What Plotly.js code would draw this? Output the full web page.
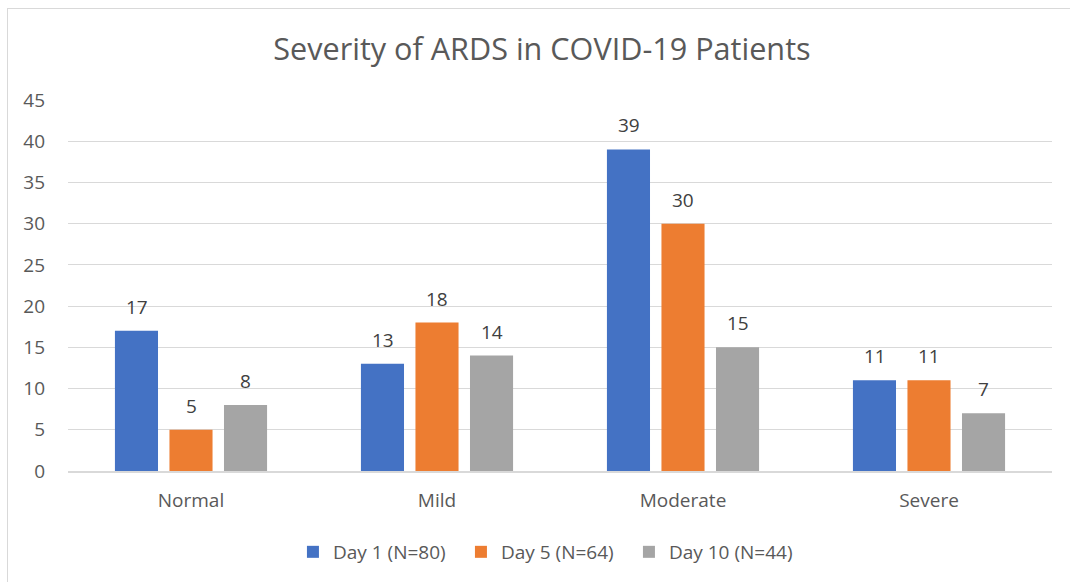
<!DOCTYPE html>
<html>
<head>
<meta charset="utf-8">
<script src="https://cdn.plot.ly/plotly-3.0.1.min.js"></script>
<style>
html,body{margin:0;padding:0;background:#fff;}
#frame{position:absolute;left:7px;top:8px;width:1080px;height:600px;border:1px solid #d9d9d9;box-sizing:border-box;}
#chart{position:absolute;left:0;top:0;width:1070px;height:582px;}
</style>
</head>
<body>
<div id="frame"></div>
<div id="chart"></div>
<script>
const categories = ["Normal", "Mild", "Moderate", "Severe"];
const seriesNames = ["Day 1 (N=80)", "Day 5 (N=64)", "Day 10 (N=44)"];
const day1 = [17, 13, 39, 11];
const day5 = [5, 18, 30, 11];
const day10 = [8, 14, 15, 7];
const yTicks = [0, 5, 10, 15, 20, 25, 30, 35, 40, 45];

const colors = ["#4472C4", "#ED7D31", "#A5A5A5"];
const font = "Open Sans, DejaVu Sans, sans-serif";
const series = [day1, day5, day10];
const data = series.map((vals, i) => ({
  type: "bar",
  name: seriesNames[i],
  x: categories,
  y: vals,
  marker: {color: colors[i]},
  hoverinfo: "x+y+name"
}));

// value labels above bars (positioned via axis scales, shifted to each bar's slot)
const slotPx = 54.5;
const annotations = [];
series.forEach((vals, i) => {
  vals.forEach((v, j) => {
    annotations.push({
      x: categories[j], y: v, xref: "x", yref: "y",
      text: String(v), showarrow: false,
      xanchor: "center", yanchor: "bottom",
      xshift: (i - 1) * slotPx, yshift: 9,
      font: {size: 19, color: "#404040", family: font}
    });
  });
});

const layout = {
  width: 1070, height: 582,
  margin: {l: 68, r: 18, t: 100, b: 110},
  paper_bgcolor: "rgba(0,0,0,0)",
  plot_bgcolor: "rgba(0,0,0,0)",
  font: {family: font, color: "#595959", size: 19},
  title: {text: "Severity of ARDS in COVID-19 Patients", x: 0.5065, xanchor: "center", y: 0.915, yanchor: "middle", font: {size: 30.6, color: "#595959", family: font}},
  barmode: "group",
  bargap: 0.335,
  bargroupgap: 0.21,
  xaxis: {showgrid: false, showline: true, linecolor: "#d9d9d9", linewidth: 1.5, ticks: "", tickfont: {size: 19, color: "#595959"}, ticklabelstandoff: 11},
  yaxis: {range: [0, 45], tickvals: yTicks, showgrid: true, gridcolor: "#d9d9d9", gridwidth: 1, zeroline: false, showline: false, ticks: "", tickfont: {size: 19, color: "#595959"}, ticklabelstandoff: 22},
  legend: {orientation: "h", x: 0.2286, xanchor: "left", y: -0.215, yanchor: "middle", font: {size: 19, color: "#595959"}, itemwidth: 30, traceorder: "normal", entrywidth: 123, entrywidthmode: "pixels"},
  annotations: annotations,
  showlegend: true
};

Plotly.newPlot("chart", data, layout, {displayModeBar: false});
</script>
</body>
</html>
